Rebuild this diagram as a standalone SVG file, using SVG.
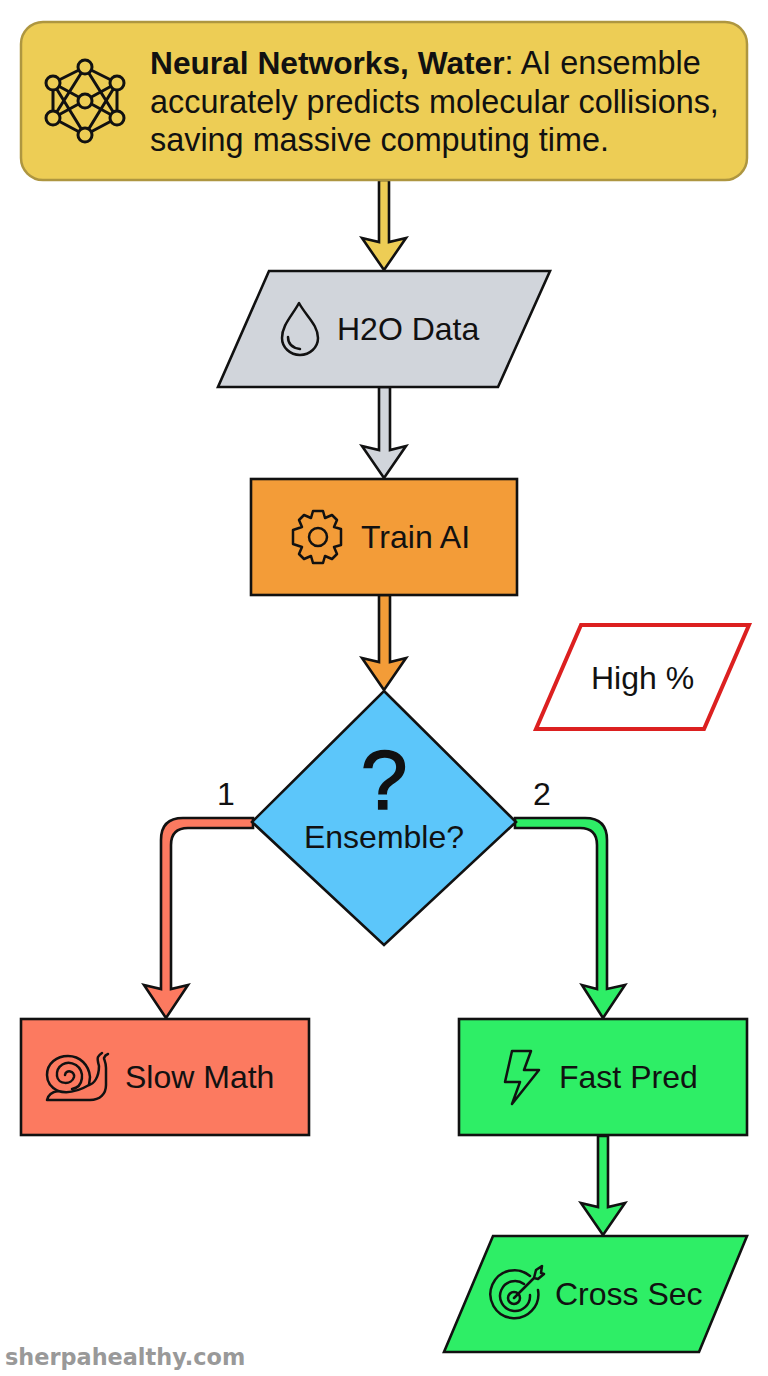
<svg xmlns="http://www.w3.org/2000/svg" width="768" height="1376" viewBox="0 0 768 1376">
<style>
text{font-family:"Liberation Sans",Arial,sans-serif;font-size:32px;fill:#111}
.h{font-size:32.4px}
.b{font-size:31.7px;font-weight:700}
.n{stroke:#111;stroke-width:2.6;stroke-linejoin:miter}
.a{stroke:#111;stroke-width:2.6;stroke-linejoin:miter}
.i{fill:none;stroke:#111;stroke-width:2.5;stroke-linecap:round;stroke-linejoin:round}
</style>
<rect width="768" height="1376" fill="#fff"/>
<g id="connectors">
<path class="a" fill="#EDCD55" d="M379 180V242L362 238L384 270L406 238L389 242V180Z"/>
<path class="a" fill="#D1D5DB" d="M379 387V450L362 446L384 478L406 446L390 450V387Z"/>
<path class="a" fill="#F39C38" d="M379 595V662L362 658L384 690L406 658L390 662V595Z"/>
<path class="a" fill="#FC7A60" d="M253 818H183Q161 818 161 840V989L144 985L166 1018L188 985L171 989V845Q171 828 188 828H253Z"/>
<path class="a" fill="#2EEE66" d="M515 818H585Q607 818 607 840V989L625 985L603 1018L582 985L597 989V845Q597 828 580 828H515Z"/>
<path class="a" fill="#2EEE66" d="M598 1136V1207L581 1203L603 1235L625 1203L608 1207V1136Z"/>
</g>
<g id="header">
<rect x="21" y="22" width="726" height="158" rx="22" fill="#EDCD55" stroke="#AE9640" stroke-width="2.5"/>
<g class="i" style="stroke-width:3">
<path d="M85 67L53 83M85 67L117 83M53 83V118M117 83V118M53 118L85 135M117 118L85 135M85 67L53 118M85 67L117 118M53 83L85 135M117 83L85 135M53 83L117 118M117 83L53 118"/>
<g fill="#EDCD55"><circle cx="85" cy="67" r="7"/><circle cx="53" cy="83" r="7"/><circle cx="117" cy="83" r="7"/><circle cx="53" cy="118" r="7"/><circle cx="117" cy="118" r="7"/><circle cx="85" cy="135" r="7"/><circle cx="85" cy="101" r="7"/></g>
</g>
<text class="h" x="150" y="74"><tspan class="b">Neural Networks, Water</tspan>: AI ensemble</text>
<text class="h" x="150" y="113">accurately predicts molecular collisions,</text>
<text class="h" x="150" y="151">saving massive computing time.</text>
</g>
<g id="h2o">
<path class="n" fill="#D1D5DB" d="M269 271H550L498 387H218Z"/>
<path class="i" d="M299 303C292 316 282 325 282 338A18 17 0 0 0 318 338C318 325 306 316 299 303ZM288 337C288 344 293 348 300 349"/>
<text x="337" y="340">H2O Data</text>
</g>
<g id="train">
<rect class="n" x="251" y="479" width="266" height="116" fill="#F39C38"/>
<path class="i" d="M313 511L323 511L325 518L332 515L337 520L334 527L341 529V545L334 547L337 554L332 559L325 556L323 563H313L311 556L304 559L299 554L302 547L293 544V530L302 527L299 520L304 515L311 518Z"/>
<circle class="i" cx="318" cy="537" r="9"/>
<text x="361" y="548">Train AI</text>
</g>
<g id="high">
<path d="M581 625H749L704 729H536Z" fill="#fff" stroke="#DC2020" stroke-width="4"/>
<text x="591" y="689">High %</text>
</g>
<g id="decision">
<path class="n" fill="#5CC6FA" d="M384 691L516 822L384 945L252 822Z"/>
<text x="384" y="809" text-anchor="middle" stroke="#111" stroke-width="1.6" style="font-size:84px">?</text>
<text x="384" y="848" text-anchor="middle">Ensemble?</text>
</g>
<g id="labels">
<text x="217" y="805">1</text>
<text x="533" y="805">2</text>
</g>
<g id="slow">
<rect class="n" x="21" y="1019" width="288" height="116" fill="#FC7A60"/>
<g class="i">
<path d="M47 1100H90C100 1100 106 1094 106 1085V1068C106 1062 104 1060 104 1058Q105 1055 108 1054M47 1100C48 1095 52 1092 58 1091"/>
<path d="M58 1091C50 1087 47 1081 47 1075C47 1063 57 1056 68 1056C80 1056 89 1065 90 1077L89 1085C94 1084 99 1077 99 1066Q97 1059 98 1057Q99 1055 102 1053"/>
<path d="M58 1091Q72 1095 89 1085M72 1089C84 1087 85 1071 76 1065C66 1059 56 1066 57 1076C58 1085 72 1085 74 1077C75 1071 66 1069 65 1075"/>
</g>
<text x="125" y="1088">Slow Math</text>
</g>
<g id="fast">
<rect class="n" x="459" y="1019" width="288" height="116" fill="#2EEE66"/>
<path class="i" d="M512 1051H531L524 1070H539L512 1104L520 1082H505Z"/>
<text x="559" y="1088">Fast Pred</text>
</g>
<g id="cross">
<path class="n" fill="#2EEE66" d="M493 1236H747L699 1352H444Z"/>
<g class="i">
<path d="M530 1276A24 24 0 1 0 538 1290"/>
<path d="M524 1284A15 15 0 1 0 530 1295"/>
<circle cx="514" cy="1298" r="6"/>
<path d="M514 1298L534 1278M534 1278L536 1270L542 1266L541 1273L544 1274L538 1279Z"/>
</g>
<text x="555" y="1305">Cross Sec</text>
</g>
<text x="5" y="1365" style="font-family:'DejaVu Sans',sans-serif;font-size:22.4px;font-weight:700;fill:#999">sherpahealthy.com</text>
</svg>
